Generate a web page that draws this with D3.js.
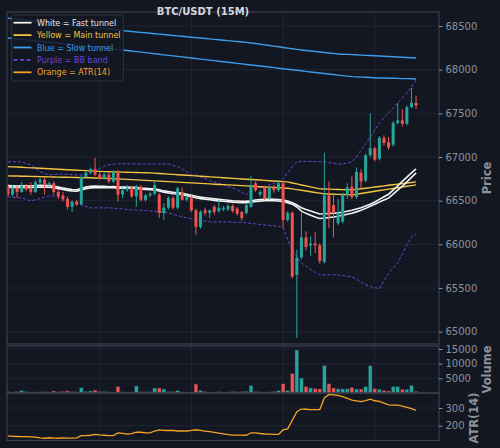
<!DOCTYPE html>
<html>
<head>
<meta charset="utf-8">
<script src="https://cdn.jsdelivr.net/npm/d3@7"></script>
<style>
  body { margin: 0; background: #131722; }
  svg { display: block; font-family: "DejaVu Sans", sans-serif; }
</style>
</head>
<body>
<script>
'use strict';

// BTC/USDT 15 minute candles
const opens = [66660,66570,66650,66600,66670,66650,66600,66710,66740,66680,
  66700,66600,66560,66520,66430,66490,66460,66770,66820,66860,
  66800,66760,66800,66720,66830,66570,66620,66650,66550,66660,
  66510,66560,66580,66570,66360,66420,66530,66420,66590,66510,
  66540,66390,66200,66390,66360,66430,66380,66400,66400,66440,
  66410,66370,66360,66430,66700,66570,66650,66530,66650,66620,
  66700,66280,66360,65650,65850,66080,65990,66010,65990,65800,
  66560,66450,66240,66260,66570,66660,66540,66820,66730,67020,
  67100,66980,67220,67170,67140,67390,67420,67380,67570,67620];
const highs = [66680,66680,66665,66715,66690,66710,66740,66760,66760,66720,
  66720,66620,66600,66550,66500,66510,66790,66840,66880,66990,
  66830,66820,66820,66850,66850,66650,66680,66670,66680,66680,
  66580,66600,66720,66590,66470,66550,66550,66660,66650,66560,
  66560,66410,66390,66420,66400,66450,66510,66440,66460,66460,
  66430,66380,66470,66780,66720,66620,66670,66670,66680,66720,
  66720,66380,66380,65940,66360,66150,66090,66140,66010,67050,
  66720,66590,66520,66590,66700,66780,66880,66860,67040,67500,
  67120,67240,67250,67230,67410,67620,67550,67590,67790,67700];
const lows = [66550,66550,66530,66590,66610,66570,66590,66690,66570,66660,
  66570,66520,66490,66400,66370,66440,66450,66760,66800,66780,
  66740,66740,66700,66700,66490,66530,66600,66530,66430,66490,
  66490,66540,66560,66300,66280,66400,66400,66400,66500,66490,
  66370,66110,66180,66330,66300,66340,66360,66380,66380,66360,
  66330,66270,66340,66420,66600,66550,66510,66510,66590,66600,
  66190,66260,65610,64930,65830,65930,65870,65900,65780,65780,
  66190,66080,66220,66240,66520,66520,66520,66640,66710,67000,
  66950,66960,67130,67080,67120,67370,67350,67360,67560,67550];
const closes = [66570,66650,66600,66670,66630,66600,66710,66740,66680,66700,
  66600,66550,66520,66430,66490,66460,66770,66820,66860,66800,
  66760,66800,66720,66830,66570,66620,66650,66550,66660,66510,
  66560,66580,66680,66360,66420,66530,66420,66640,66510,66540,
  66390,66200,66370,66360,66390,66370,66420,66420,66440,66380,
  66350,66300,66450,66680,66620,66600,66530,66650,66620,66700,
  66280,66360,65630,65850,66080,65970,66010,65990,65810,66560,
  66330,66360,66360,66570,66650,66540,66830,66720,67020,67100,
  66970,67220,67160,67110,67390,67420,67380,67570,67620,67590];
const volumes = [500,350,450,860,500,300,350,400,450,350,
  690,450,600,700,500,400,1800,600,700,1000,
  500,500,400,300,2150,400,300,350,2400,450,
  400,450,1700,1700,1350,500,500,850,400,300,
  350,3080,860,500,350,300,450,300,350,520,
  400,500,600,2600,500,400,300,400,500,850,
  3170,850,6620,14660,5100,2240,1700,1500,1400,9380,
  3170,1700,1400,1400,1400,1900,1350,1350,2150,9300,
  1500,1300,900,700,2200,2200,1300,1300,2600,600];
const atr = [142,140,139,138,138,137,135,131,129,132,
  130,129,131,130,130,131,144,144,146,151,
  148,146,144,144,159,157,153,155,164,163,
  160,160,170,176,174,173,174,170,170,170,
  173,177,174,169,166,162,158,154,150,147,
  147,147,146,160,160,156,153,152,151,151,
  176,182,230,279,294,293,291,291,291,357,
  377,374,371,364,355,345,340,336,342,350,
  341,337,328,318,316,316,310,304,297,287];

// tunnels and bands
const fastUpper = [66672,66670,66669,66670,66670,66669,66672,66675,66673,66672,
  66665,66655,66645,66635,66628,66626,66640,66655,66665,66668,
  66666,66664,66660,66662,66656,66655,66655,66654,66652,66646,
  66642,66637,66636,66625,66612,66605,66597,66593,66584,66574,
  66563,66550,66541,66534,66528,66521,66515,66510,66505,66500,
  66497,66494,66495,66500,66508,66513,66517,66518,66516,66514,
  66506,66495,66477,66450,66420,66400,66382,66365,66348,66350,
  66354,66357,66360,66368,66380,66391,66405,66420,66440,66460,
  66485,66515,66545,66574,66620,66670,66721,66770,66818,66864];
const fastLower = [66654,66652,66651,66652,66652,66651,66654,66657,66655,66654,
  66648,66638,66628,66618,66611,66609,66623,66637,66647,66650,
  66649,66648,66648,66648,66644,66643,66643,66642,66640,66634,
  66630,66626,66622,66610,66596,66588,66580,66576,66567,66557,
  66546,66533,66524,66517,66511,66504,66498,66493,66488,66484,
  66480,66477,66478,66483,66490,66495,66500,66501,66499,66496,
  66488,66476,66460,66428,66380,66355,66333,66313,66296,66300,
  66307,66314,66322,66333,66345,66357,66372,66390,66412,66437,
  66460,66484,66507,66529,66575,66620,66666,66716,66767,66818];
const mainUpper = [66890,66887,66885,66882,66879,66876,66874,66871,66868,66866,
  66863,66860,66857,66855,66852,66849,66847,66844,66841,66838,
  66836,66833,66831,66830,66828,66827,66825,66824,66822,66821,
  66819,66818,66815,66811,66808,66804,66801,66797,66794,66791,
  66787,66784,66780,66777,66773,66770,66767,66763,66760,66756,
  66753,66749,66746,66743,66739,66736,66732,66729,66725,66722,
  66718,66715,66703,66692,66680,66669,66658,66646,66635,66633,
  66632,66630,66628,66627,66625,66624,66630,66637,66643,66650,
  66656,66663,66669,66676,66682,66689,66695,66702,66708,66715];
const mainLower = [66784,66783,66782,66780,66779,66778,66777,66775,66774,66773,
  66772,66770,66769,66768,66767,66765,66764,66763,66762,66760,
  66759,66758,66755,66752,66749,66747,66744,66741,66738,66735,
  66733,66730,66727,66724,66721,66718,66715,66713,66710,66707,
  66704,66701,66698,66695,66692,66689,66686,66684,66681,66678,
  66675,66672,66669,66666,66663,66660,66657,66655,66652,66649,
  66646,66643,66635,66627,66619,66611,66602,66594,66586,66578,
  66576,66574,66572,66571,66569,66567,66575,66583,66591,66600,
  66608,66616,66624,66632,66640,66648,66657,66665,66673,66681];
const slowUpper = [68590,68584,68579,68573,68567,68562,68556,68550,68544,68539,
  68533,68527,68522,68516,68510,68505,68499,68493,68487,68482,
  68476,68470,68465,68459,68453,68447,68442,68437,68432,68427,
  68422,68417,68412,68407,68402,68397,68392,68387,68382,68377,
  68372,68367,68362,68357,68352,68347,68342,68337,68332,68327,
  68322,68317,68312,68306,68299,68291,68284,68277,68269,68262,
  68254,68247,68240,68232,68225,68219,68214,68208,68202,68197,
  68191,68186,68180,68177,68175,68172,68170,68167,68164,68162,
  68159,68157,68154,68151,68148,68145,68142,68140,68137,68134];
const slowLower = [68363,68358,68352,68347,68341,68336,68330,68325,68319,68314,
  68308,68303,68297,68292,68286,68281,68275,68270,68264,68259,
  68253,68248,68242,68237,68231,68225,68219,68213,68207,68201,
  68195,68189,68183,68177,68170,68164,68158,68152,68146,68140,
  68134,68128,68121,68115,68109,68103,68097,68091,68085,68079,
  68072,68066,68060,68054,68048,68042,68036,68030,68023,68017,
  68011,68005,67999,67993,67987,67980,67974,67968,67962,67956,
  67950,67944,67938,67932,67926,67920,67918,67915,67913,67910,
  67908,67905,67904,67902,67901,67900,67898,67897,67896,67894];
const bbUpper = [66944,66944,66944,66944,66925,66910,66870,66830,66810,66795,
  66800,66807,66805,66800,66798,66795,66795,66810,66830,66853,
  66870,66895,66910,66918,66921,66922,66922,66921,66921,66921,
  66921,66921,66921,66921,66921,66921,66905,66887,66860,66830,
  66795,66795,66770,66750,66730,66715,66700,66680,66660,66645,
  66624,66595,66567,66624,66640,66650,66658,66680,66700,66715,
  66750,66820,66887,66944,66950,66950,66950,66948,66946,66944,
  66935,66928,66921,66921,66930,66944,67000,67081,67150,67230,
  67310,67390,67450,67505,67560,67620,67676,67734,67802,67882];
const bbLower = [66544,66540,66536,66532,66515,66498,66510,66525,66540,66555,
  66552,66544,66515,66487,66470,66460,66452,66435,66418,66418,
  66418,66418,66418,66414,66410,66405,66400,66395,66393,66390,
  66387,66384,66378,66372,66366,66361,66345,66330,66315,66303,
  66292,66284,66275,66266,66258,66258,66258,66258,66258,66255,
  66252,66250,66247,66240,66235,66229,66223,66218,66212,66204,
  66195,66052,65950,65857,65789,65750,65715,65680,65651,65651,
  65651,65651,65651,65643,65636,65629,65600,65570,65537,65520,
  65505,65491,65580,65674,65730,65789,65890,65995,66086,66120];

// axis ticks
const priceTicks = [65000, 65500, 66000, 66500, 67000, 67500, 68000, 68500];
const volumeTicks = [5000, 10000, 15000];
const atrTicks = [200, 300];
const timeTicks = [20, 40, 60, 80];

const legendLabels = ["White = Fast tunnel", "Yellow = Main tunnel", "Blue = Slow tunnel",
  "Purple = BB band", "Orange = ATR(14)"];

(function() {

  let svg = "";
  const up = "#26a69a", down = "#ef5350";
  const white = "#f2f2f2", yellow = "#f0c440", blue = "#3d9be9", purple = "#6c44d8", orange = "#f7a325";
  const spine = "#3b404d", grid = "#232835", label = "#8d919b";

  // panel boxes
  const left = 7, right = 439;
  const main = { top: 12, bottom: 344 };
  const vol = { top: 346, bottom: 393 };
  const ind = { top: 393, bottom: 440.5 };

  window.onload = function() {
    svg = d3.select('body').append('svg')
      .attr('width', 500)
      .attr('height', 448);
    svg.append('rect').attr('width', 500).attr('height', 448).attr('fill', '#131722');

    let x = d3.scaleLinear().domain([-0.2, 94]).range([left, right]);
    let yPrice = d3.scaleLinear().domain([65000, 68500]).range([331.7, 26]);
    let yVol = d3.scaleLinear().domain([0, 15000]).range([393, 349]);
    let yAtr = d3.scaleLinear().domain([200, 300]).range([425.7, 408]);

    makeClips();
    drawGrid(x, yPrice, main, priceTicks);
    drawGrid(x, yVol, vol, volumeTicks);
    drawGrid(x, yAtr, ind, atrTicks);

    drawLines(x, yPrice);
    drawCandles(x, yPrice);
    drawVolume(x, yVol);
    drawAtr(x, yAtr);

    drawFrames();
    drawAxis(yPrice, priceTicks);
    drawAxis(yVol, volumeTicks);
    drawAxis(yAtr, atrTicks);
    makeLabels();
    makeLegend();
  };

  function makeClips() {
    let defs = svg.append('defs');
    [['clipMain', main], ['clipVol', vol], ['clipAtr', ind]].forEach(function(c) {
      defs.append('clipPath').attr('id', c[0])
        .append('rect')
        .attr('x', left).attr('y', c[1].top)
        .attr('width', right - left).attr('height', c[1].bottom - c[1].top);
    });
  }

  // horizontal grid on the ticks, vertical grid on the time ticks
  function drawGrid(x, y, box, ticks) {
    let g = svg.append('g');
    g.selectAll('.h').data(ticks).enter().append('line')
      .attr('x1', left).attr('x2', right)
      .attr('y1', (d) => y(d)).attr('y2', (d) => y(d))
      .attr('stroke', grid).attr('stroke-width', 0.8);
    g.selectAll('.v').data(timeTicks).enter().append('line')
      .attr('x1', (d) => x(d)).attr('x2', (d) => x(d))
      .attr('y1', box.top).attr('y2', box.bottom)
      .attr('stroke', grid).attr('stroke-width', 0.8);
  }

  function drawLines(x, y) {
    let g = svg.append('g').attr('clip-path', 'url(#clipMain)');
    let line = d3.line().x((d, i) => x(i)).y((d) => y(d));
    let series = [
      [slowUpper, blue, 1.4, null], [slowLower, blue, 1.4, null],
      [bbUpper, purple, 1, '3,2'], [bbLower, purple, 1, '3,2'],
      [mainUpper, yellow, 1.4, null], [mainLower, yellow, 1.4, null],
      [fastUpper, white, 1.6, null], [fastLower, white, 1.6, null]
    ];
    series.forEach(function(s) {
      g.append('path')
        .datum(s[0])
        .attr('d', line)
        .attr('fill', 'none')
        .attr('stroke', s[1])
        .attr('stroke-width', s[2])
        .attr('stroke-dasharray', s[3]);
    });
  }

  function drawCandles(x, y) {
    let g = svg.append('g').attr('clip-path', 'url(#clipMain)');
    let idx = d3.range(closes.length);
    let col = (i) => closes[i] >= opens[i] ? up : down;
    g.selectAll('.wick').data(idx).enter().append('line')
      .attr('x1', (i) => x(i)).attr('x2', (i) => x(i))
      .attr('y1', (i) => y(highs[i])).attr('y2', (i) => y(lows[i]))
      .attr('stroke', col).attr('stroke-width', 1);
    g.selectAll('.body').data(idx).enter().append('rect')
      .attr('x', (i) => x(i) - 1.5)
      .attr('width', 3)
      .attr('y', (i) => y(Math.max(opens[i], closes[i])))
      .attr('height', (i) => Math.max(0.8, Math.abs(y(opens[i]) - y(closes[i]))))
      .attr('fill', col);
  }

  function drawVolume(x, y) {
    let g = svg.append('g').attr('clip-path', 'url(#clipVol)');
    g.selectAll('rect').data(volumes).enter().append('rect')
      .attr('x', (d, i) => x(i) - 1.9)
      .attr('width', 3.8)
      .attr('y', (d) => y(d))
      .attr('height', (d) => y(0) - y(d))
      .attr('fill', (d, i) => closes[i] >= opens[i] ? up : down)
      .attr('stroke', '#1d2a44')
      .attr('stroke-width', 0.5);
  }

  function drawAtr(x, y) {
    svg.append('g').attr('clip-path', 'url(#clipAtr)')
      .append('path')
      .datum(atr)
      .attr('d', d3.line().x((d, i) => x(i)).y((d) => y(d)))
      .attr('fill', 'none')
      .attr('stroke', orange)
      .attr('stroke-width', 1.3);
  }

  function drawFrames() {
    [main, vol, ind].forEach(function(b) {
      svg.append('rect')
        .attr('x', left).attr('y', b.top)
        .attr('width', right - left).attr('height', b.bottom - b.top)
        .attr('fill', 'none')
        .attr('stroke', spine)
        .attr('stroke-width', 1.2);
    });
  }

  // tick labels on the right side
  function drawAxis(y, ticks) {
    let axis = d3.axisRight(y).tickValues(ticks).tickSize(3.5).tickPadding(3).tickFormat(d3.format('d'));
    let g = svg.append('g')
      .attr('transform', 'translate(' + right + ',0)')
      .call(axis);
    g.select('.domain').remove();
    g.selectAll('line').attr('stroke', label);
    g.selectAll('text')
      .attr('fill', label)
      .style('font-size', '10px')
      .style('font-family', '"DejaVu Sans", sans-serif');
  }

  function makeLabels() {
    svg.append('text')
      .attr('x', 203).attr('y', 14.5)
      .attr('text-anchor', 'middle')
      .attr('fill', '#d6d8de')
      .style('font-size', '10px')
      .style('font-weight', 'bold')
      .text('BTC/USDT (15M)');

    let side = [['Price', 490.5, 178], ['Volume', 490.5, 369.5], ['ATR(14)', 478, 418]];
    side.forEach(function(s) {
      svg.append('text')
        .attr('transform', 'translate(' + s[1] + ',' + s[2] + ')rotate(-90)')
        .attr('text-anchor', 'middle')
        .attr('fill', label)
        .style('font-size', '11.5px')
        .style('font-weight', 'bold')
        .text(s[0]);
    });
  }

  function makeLegend() {
    let colors = [white, yellow, blue, purple, orange];
    let g = svg.append('g');
    g.append('rect')
      .attr('x', 11.7).attr('y', 15)
      .attr('width', 111.6).attr('height', 66)
      .attr('rx', 2)
      .attr('fill', '#131722').attr('fill-opacity', 0.85)
      .attr('stroke', '#343a47').attr('stroke-width', 0.8);
    let rows = g.selectAll('.row').data(legendLabels).enter().append('g')
      .attr('transform', (d, i) => 'translate(0,' + (22.7 + i * 12.4) + ')');
    rows.append('line')
      .attr('x1', 13.5).attr('x2', 31.5)
      .attr('stroke', (d, i) => colors[i])
      .attr('stroke-width', 1.8)
      .attr('stroke-dasharray', (d, i) => i === 3 ? '4,2.5' : null);
    rows.append('text')
      .attr('x', 37).attr('y', 3)
      .attr('fill', (d, i) => i === 0 ? '#e6e6e6' : colors[i])
      .style('font-size', '8px')
      .text((d) => d);
  }

})();
</script>
</body>
</html>
